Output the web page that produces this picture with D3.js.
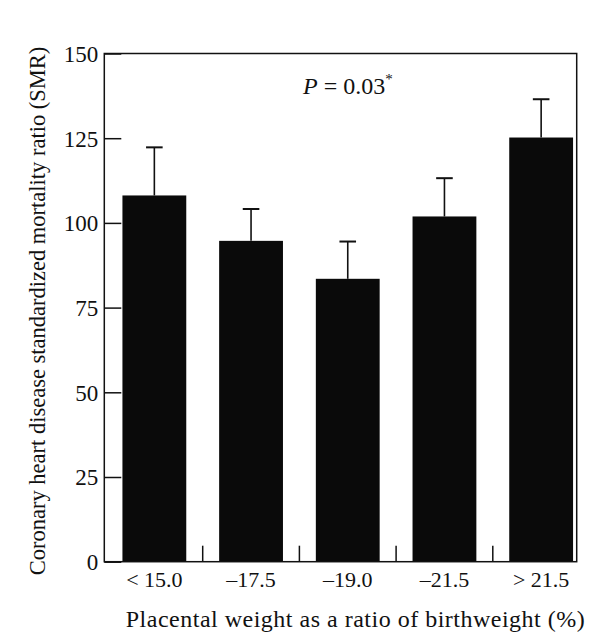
<!DOCTYPE html>
<html>
<head>
<meta charset="utf-8">
<script src="https://cdn.jsdelivr.net/npm/d3@7"></script>
<style>
  html, body { margin: 0; padding: 0; background: #fff; }
  svg { display: block; }
  text { font-family: "Liberation Serif", "Times New Roman", serif; fill: #111; }
</style>
</head>
<body>
<svg id="chart" width="602" height="644"></svg>
<script>
// ---- data ----
const categories = ["< 15.0", "\u201317.5", "\u201319.0", "\u201321.5", "> 21.5"];
const smrValues = [108.1, 94.7, 83.5, 101.9, 125.2];
const errorUpper = [122.3, 104.1, 94.5, 113.2, 136.5];
const yTicks = [0, 25, 50, 75, 100, 125, 150];
const yLabel = "Coronary heart disease standardized mortality ratio (SMR)";
const xLabel = "Placental weight as a ratio of birthweight (%)";

// ---- layout ----
const svg = d3.select("#chart");
const frame = { left: 104.3, top: 53.5, right: 576.7, bottom: 561.7 };

const x = d3.scaleBand()
  .domain(categories)
  .range([106, 589.5])
  .paddingInner(0.34)
  .paddingOuter(0.17);

const y = d3.scaleLinear()
  .domain([0, 150])
  .range([frame.bottom, frame.top]);

// bars
svg.append("g").selectAll("rect")
  .data(categories)
  .join("rect")
  .attr("x", d => x(d))
  .attr("width", x.bandwidth())
  .attr("y", (d, i) => y(smrValues[i]))
  .attr("height", (d, i) => y(0) - y(smrValues[i]))
  .attr("fill", "#0a0a0a");

// error bars
const eb = svg.append("g").attr("stroke", "#111").attr("stroke-width", 1.6);
categories.forEach((c, i) => {
  const cx = x(c) + x.bandwidth() / 2;
  eb.append("line")
    .attr("x1", cx).attr("x2", cx)
    .attr("y1", y(smrValues[i])).attr("y2", y(errorUpper[i]));
  eb.append("line")
    .attr("x1", cx - 8.3).attr("x2", cx + 8.3)
    .attr("y1", y(errorUpper[i])).attr("y2", y(errorUpper[i]))
    .attr("stroke-width", 2);
});

// y axis (inward ticks)
const yAxis = svg.append("g")
  .attr("transform", `translate(${frame.left},0)`)
  .call(d3.axisLeft(y).tickValues(yTicks).tickSize(-17).tickSizeOuter(0).tickPadding(6));
yAxis.select(".domain").remove();
yAxis.selectAll(".tick line").attr("stroke", "#111").attr("stroke-width", 1.5);
yAxis.selectAll(".tick text")
  .style("font-family", "'Liberation Serif', serif")
  .style("font-size", "23px")
  .attr("fill", "#111")
  .attr("dy", "0.34em");

// x axis labels
const xAxis = svg.append("g")
  .attr("transform", `translate(0,${frame.bottom})`)
  .call(d3.axisBottom(x).tickSize(0).tickPadding(25));
xAxis.select(".domain").remove();
xAxis.selectAll(".tick text")
  .style("font-family", "'Liberation Serif', serif")
  .style("font-size", "22px")
  .attr("fill", "#111")
  .attr("dy", "0");

// x tick marks between bars (inward)
const step = x.step();
svg.append("g").selectAll("line")
  .data(categories.slice(0, -1))
  .join("line")
  .attr("x1", d => x(d) + x.bandwidth() + step * x.paddingInner() / 2)
  .attr("x2", d => x(d) + x.bandwidth() + step * x.paddingInner() / 2)
  .attr("y1", frame.bottom)
  .attr("y2", frame.bottom - 16)
  .attr("stroke", "#111")
  .attr("stroke-width", 1.5);

// frame
svg.append("rect")
  .attr("x", frame.left).attr("y", frame.top)
  .attr("width", frame.right - frame.left)
  .attr("height", frame.bottom - frame.top)
  .attr("fill", "none")
  .attr("stroke", "#111")
  .attr("stroke-width", 1.5);

// P annotation
const pt = svg.append("text")
  .attr("x", 303).attr("y", 94)
  .style("font-size", "24px");
pt.append("tspan").attr("font-style", "italic").text("P");
pt.append("tspan").text(" = 0.03");
pt.append("tspan").attr("dy", -10).style("font-size", "15px").text("*");

// axis titles
svg.append("text")
  .attr("x", 355.5).attr("y", 626.5)
  .attr("text-anchor", "middle")
  .style("font-size", "24px")
  .style("letter-spacing", "0.5px")
  .text(xLabel);

svg.append("text")
  .attr("transform", "translate(45,311) rotate(-90)")
  .attr("text-anchor", "middle")
  .style("font-size", "22.5px")
  .text(yLabel);
</script>
</body>
</html>
